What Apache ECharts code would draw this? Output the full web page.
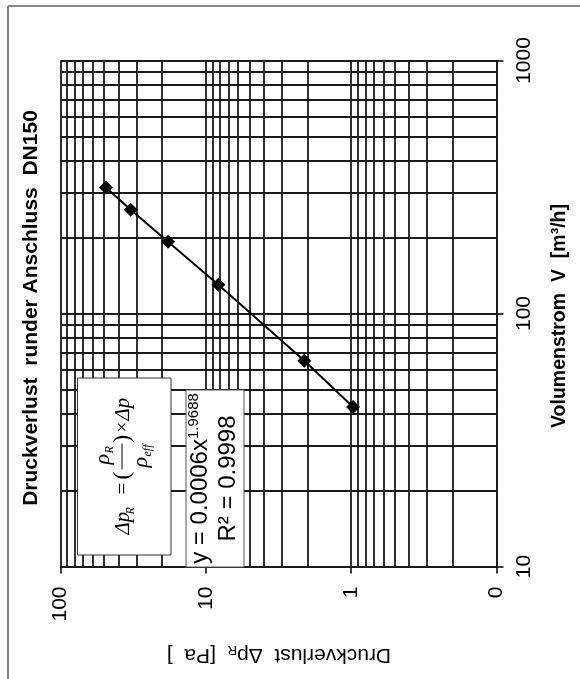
<!DOCTYPE html>
<html>
<head>
<meta charset="utf-8">
<script src="https://cdn.jsdelivr.net/npm/echarts@6/dist/echarts.min.js"></script>
<style>
html,body{margin:0;padding:0;background:#fff;}
#chart{width:580px;height:679px;}
</style>
</head>
<body>
<div id="chart"></div>
<script>
// ---- data ----
const flow = [315, 257, 192, 130, 65, 42.7];          // Volumenstrom V [m3/h]
const pressure = [48.7, 32.9, 18.2, 8.2, 2.1, 0.97];  // Druckverlust Δp_R [Pa]

const pressureTicks = [0.1, 1, 10, 100];
const pressureTickLabels = ['0', '1', '10', '100'];
const flowTicks = [10, 100, 1000];
const flowTickLabels = ['10', '100', '1000'];

const pressureGrid = [0.1,0.2,0.3,0.4,0.5,0.6,0.7,0.8,0.9,1,2,3,4,5,6,7,8,9,10,20,30,40,50,60,70,80,90,100];
const flowGrid = [10,20,30,40,50,60,70,80,90,100,200,300,400,500,600,700,800,900,1000];

const titleText = 'Druckverlust  runder Anschluss  DN150';
const flowTitle = 'Volumenstrom  V  [m³/h]';
const eqLine1 = 'y = 0.0006x';
const eqExp = '1.9688';
const eqLine2 = 'R² = 0.9998';

function labelFor(ticks, labels) {
  return function (v) {
    for (let i = 0; i < ticks.length; i++) {
      if (Math.abs(Math.log10(ticks[i]) - Math.log10(v)) < 1e-6) return labels[i];
    }
    return '';
  };
}

const SANS = '"Liberation Sans", Arial, Helvetica, sans-serif';
const SERIF = '"Liberation Serif", "Times New Roman", serif';
const points = pressure.map((p, i) => [p, flow[i]]);

function T(text, x, y, font) {
  return {
    type: 'text', x: x, y: y, z: 101,
    style: {text: text, font: font, fill: '#000', align: 'left', verticalAlign: 'middle',
            textAlign: 'left', textVerticalAlign: 'middle'}
  };
}

const chart = echarts.init(document.getElementById('chart'), null, {renderer: 'canvas'});
chart.setOption({
  animation: false,
  backgroundColor: '#fff',
  grid: {left: 60.5, top: 60.5, width: 436, height: 506, containLabel: false},
  xAxis: {
    type: 'log', logBase: 10, min: 0.1, max: 100, inverse: true, position: 'bottom',
    splitLine: {show: false},
    axisLine: {onZero: false, lineStyle: {color: '#000', width: 1.5}},
    axisTick: {show: true, length: 7, lineStyle: {color: '#000', width: 1.5}},
    axisLabel: {
      rotate: 90, margin: 20, align: 'right', verticalAlign: 'middle',
      fontSize: 21, fontFamily: SANS, color: '#000',
      showMinLabel: true, showMaxLabel: true,
      formatter: labelFor(pressureTicks, pressureTickLabels)
    }
  },
  yAxis: {
    type: 'log', logBase: 10, min: 10, max: 1000, position: 'right',
    splitLine: {show: false},
    axisLine: {onZero: false, lineStyle: {color: '#000', width: 1.5}},
    axisTick: {show: true, length: 7, lineStyle: {color: '#000', width: 1.5}},
    axisLabel: {
      rotate: 90, margin: 17, align: 'center', verticalAlign: 'top',
      fontSize: 21, fontFamily: SANS, color: '#000',
      showMinLabel: true, showMaxLabel: true,
      formatter: labelFor(flowTicks, flowTickLabels)
    }
  },
  series: [
    {
      type: 'line', data: points, showSymbol: false, symbol: 'none', silent: true,
      lineStyle: {opacity: 0}, z: 1,
      markLine: {
        silent: true, z: 1, animation: false,
        symbol: ['none', 'none'],
        label: {show: false},
        lineStyle: {color: '#1a1a1a', width: 1.8, type: 'solid'},
        data: pressureGrid.map(v => ({xAxis: v})).concat(flowGrid.map(v => ({yAxis: v})))
      }
    },
    {
      type: 'line', data: points, z: 5,
      symbol: 'diamond', symbolSize: 14,
      lineStyle: {color: '#000', width: 2},
      itemStyle: {color: '#000'}
    }
  ],
  graphic: [
    {type: 'line', z: 100, shape: {x1: 8, y1: 6, x2: 8, y2: 679}, style: {stroke: '#888', lineWidth: 2}},
    {type: 'line', z: 100, shape: {x1: 8, y1: 6, x2: 580, y2: 6}, style: {stroke: '#888', lineWidth: 2}},
    {type: 'text', x: 31, y: 308, rotation: Math.PI / 2, z: 101,
      style: {text: titleText, font: 'bold 21px ' + SANS, fill: '#000', align: 'center', verticalAlign: 'middle', textAlign: 'center', textVerticalAlign: 'middle'}},
    {type: 'text', x: 559.5, y: 316, rotation: Math.PI / 2, z: 101,
      style: {text: flowTitle, font: 'bold 19.5px ' + SANS, fill: '#000', align: 'center', verticalAlign: 'middle', textAlign: 'center', textVerticalAlign: 'middle'}},
    {type: 'text', x: 279, y: 655, rotation: Math.PI, z: 101,
      style: {
        text: '{a|Druckverlust  Δp}{s|R}{a|  [Pa  ]}',
        align: 'center', verticalAlign: 'middle', textAlign: 'center', textVerticalAlign: 'middle',
        rich: {
          a: {fontSize: 21, fontFamily: SANS, fill: '#000', color: '#000', lineHeight: 24},
          s: {fontSize: 13, fontFamily: SANS, fill: '#000', color: '#000', lineHeight: 13, verticalAlign: 'bottom'}
        }
      }},
    // formula box
    {type: 'rect', z: 100, shape: {x: 77.5, y: 378, width: 93.5, height: 177}, style: {fill: '#fff', stroke: '#333', lineWidth: 1}},
    {type: 'group', x: 124, y: 466.5, rotation: Math.PI / 2, z: 101, children: [
      T('Δp', -68, -1, 'italic 21px ' + SERIF),
      T('R', -48, 7, 'italic 12px ' + SERIF),
      T('=', -28, -1, '21px ' + SERIF),
      T('(', -13, -1, '23px ' + SERIF),
      T('ρ', 2, -21, 'italic 22px ' + SERIF),
      T('R', 13, -14, 'italic 12px ' + SERIF),
      {type: 'line', z: 101, shape: {x1: -3, y1: -2, x2: 23, y2: -2}, style: {stroke: '#000', lineWidth: 1}},
      T('ρ', -1, 17, 'italic 22px ' + SERIF),
      T('eff', 10, 24, 'italic 12px ' + SERIF),
      T(')', 24, -1, '23px ' + SERIF),
      T('×', 34, -1, '19px ' + SERIF),
      T('Δp', 46, -1, 'italic 21px ' + SERIF)
    ]},
    // trendline label box
    {type: 'rect', z: 100, shape: {x: 186, y: 390, width: 58, height: 177}, style: {fill: '#fff', stroke: '#555', lineWidth: 1}},
    {type: 'text', x: 214, y: 478.5, rotation: Math.PI / 2, z: 101,
      style: {
        text: '{a|' + eqLine1 + '}{p|' + eqExp + '}\n{a|' + eqLine2 + '}',
        align: 'center', verticalAlign: 'middle', textAlign: 'center', textVerticalAlign: 'middle',
        rich: {
          a: {fontSize: 24, fontFamily: SANS, fill: '#000', color: '#000', lineHeight: 28, align: 'center'},
          p: {fontSize: 15, fontFamily: SANS, fill: '#000', color: '#000', lineHeight: 15, verticalAlign: 'top', align: 'center'}
        }
      }}
  ]
});
</script>
</body>
</html>
